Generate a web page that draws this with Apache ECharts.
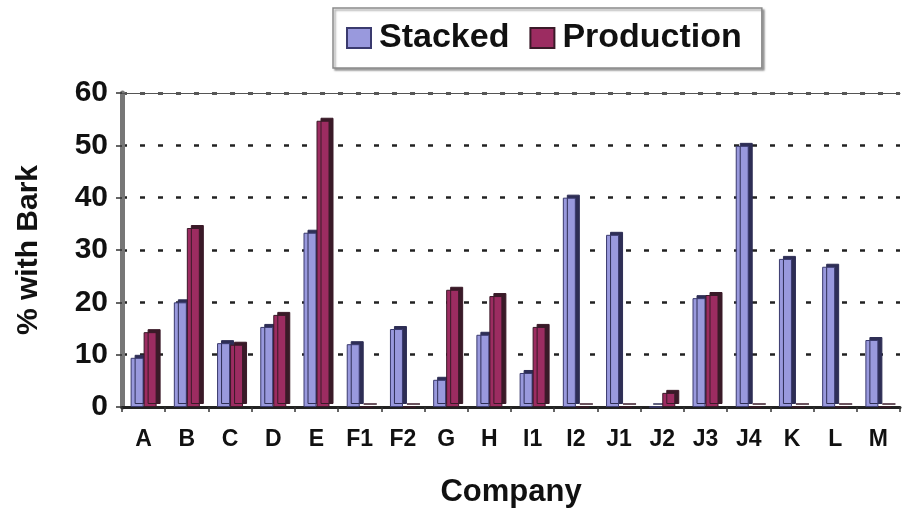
<!DOCTYPE html>
<html>
<head>
<meta charset="utf-8">
<script src="https://cdn.jsdelivr.net/npm/echarts@6/dist/echarts.min.js"></script>
<style>
  html, body { margin: 0; padding: 0; background: #fff; }
  #chart { width: 908px; height: 508px; }
</style>
</head>
<body>
<div id="chart"></div>
<script>
// companies on the x axis
const companies = ['A', 'B', 'C', 'D', 'E', 'F1', 'F2', 'G', 'H', 'I1', 'I2', 'J1', 'J2', 'J3', 'J4', 'K', 'L', 'M'];
// % with bark
const stacked = [9.4, 20, 12.2, 15.3, 33.3, 12, 14.9, 5.2, 13.8, 6.5, 40, 32.9, 0, 20.8, 49.9, 28.3, 26.8, 12.8];
const production = [14.3, 34.2, 11.9, 17.6, 54.7, 0, 0, 22.4, 21.2, 15.3, 0, 0, 2.7, 21.4, 0, 0, 0, 0];
const yTicks = [0, 10, 20, 30, 40, 50, 60];

const chart = echarts.init(document.getElementById('chart'));

const font = 'Liberation Sans, Arial, sans-serif';

const option = {
  animation: false,
  textStyle: { fontFamily: font },
  legend: {
    left: 333,
    top: 8,
    padding: [13, 20, 13, 13],
    itemWidth: 24,
    itemHeight: 20,
    itemGap: 20,
    borderColor: '#8a8a8a',
    borderWidth: 1.5,
    backgroundColor: '#fff',
    shadowColor: 'rgba(0,0,0,0.35)',
    shadowOffsetX: 2,
    shadowOffsetY: 2,
    shadowBlur: 2,
    icon: 'rect',
    textStyle: {
      fontSize: 34,
      fontWeight: 'bold',
      color: '#111',
      padding: [0, 0, 0, 3]
    },
    data: ['Stacked', 'Production']
  },
  grid: {
    left: 122,
    right: 8,
    top: 93,
    bottom: 101,
    outerBoundsMode: 'none'
  },
  xAxis: [
    {
      type: 'category',
      data: companies,
      name: 'Company',
      nameLocation: 'middle',
      nameGap: 70,
      nameTextStyle: { fontSize: 31, fontWeight: 'bold', color: '#111' },
      axisLine: { lineStyle: { color: '#222', width: 3 } },
      axisTick: { show: true, length: 5, lineStyle: { color: '#333', width: 1.5 } },
      axisLabel: { fontSize: 23, fontWeight: 'bold', color: '#111', margin: 21 }
    },
    {
      // thin line along the top of the plot
      type: 'category',
      position: 'top',
      data: companies,
      axisLine: { show: true, lineStyle: { color: '#555', width: 1 } },
      axisTick: { show: false },
      axisLabel: { show: false }
    }
  ],
  yAxis: {
    type: 'value',
    min: yTicks[0],
    max: yTicks[yTicks.length - 1],
    interval: 10,
    name: '% with Bark',
    nameLocation: 'middle',
    nameGap: 78,
    nameTextStyle: { fontSize: 30, fontWeight: 'bold', color: '#111' },
    axisLine: { show: true, lineStyle: { color: '#777', width: 5 } },
    axisTick: { show: true, length: 6, lineStyle: { color: '#333', width: 1.5 } },
    axisLabel: { fontSize: 30, fontWeight: 'bold', color: '#111', margin: 14 },
    splitLine: {
      show: true,
      lineStyle: { color: '#222', width: 2.5, type: [5, 13] }
    }
  },
  series: [
    {
      name: 'Stacked',
      type: 'bar',
      data: stacked,
      barWidth: 13,
      barGap: '0%',
      itemStyle: {
        color: '#9999dd',
        borderColor: '#3a3a6e',
        borderWidth: 1,
        shadowColor: '#2e2e55',
        shadowOffsetX: 4,
        shadowOffsetY: -3,
        shadowBlur: 0
      }
    },
    {
      name: 'Production',
      type: 'bar',
      data: production,
      barWidth: 13,
      itemStyle: {
        color: '#9c2c61',
        borderColor: '#3a1a28',
        borderWidth: 1,
        shadowColor: '#3a1a28',
        shadowOffsetX: 4,
        shadowOffsetY: -3,
        shadowBlur: 0
      }
    }
  ]
};

chart.setOption(option);
</script>
</body>
</html>
